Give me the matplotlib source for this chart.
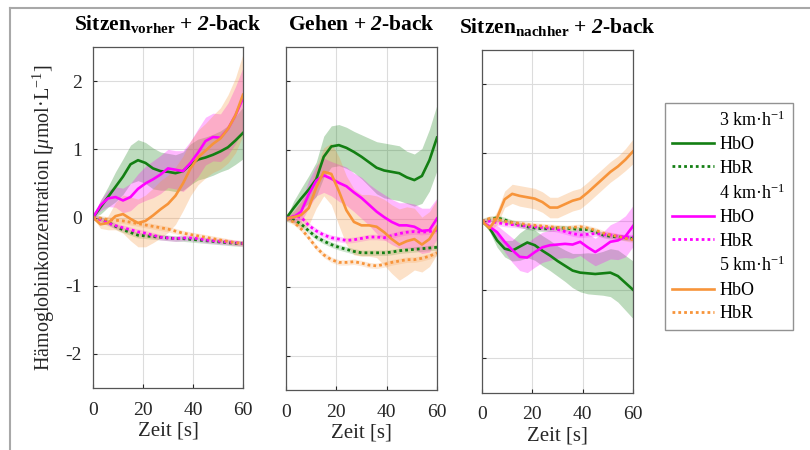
import numpy as np
import matplotlib
matplotlib.use("Agg")
import matplotlib.pyplot as plt
from matplotlib.lines import Line2D

plt.rcParams['font.family'] = ['Liberation Serif', 'DejaVu Serif']
plt.rcParams['mathtext.fontset'] = 'custom'
plt.rcParams['mathtext.rm'] = 'Liberation Serif'
plt.rcParams['mathtext.it'] = 'Liberation Serif:italic'
plt.rcParams['mathtext.bf'] = 'Liberation Serif:bold'
plt.rcParams['mathtext.bfit'] = 'Liberation Serif:bold:italic'
plt.rcParams['axes.unicode_minus'] = False

# Zeitachse [s]
t = [0, 3, 6, 9, 12, 15, 18, 21, 24, 27, 30, 33, 36, 39, 42, 45, 48, 51, 54, 57, 60]

titles = [r"$\mathbf{Sitzen}_{\mathbf{vorher}}$ + $\mathbfit{2}$-back",
          r"Gehen + $\mathbfit{2}$-back",
          r"$\mathbf{Sitzen}_{\mathbf{nachher}}$ + $\mathbfit{2}$-back"]
speeds = ["3", "4", "5"]

# Sitzen vorher
v_hbo_3 = [0, 0.15, 0.3, 0.45, 0.6, 0.78, 0.84, 0.8, 0.72, 0.68, 0.67, 0.65, 0.68, 0.78, 0.85, 0.88, 0.92, 0.97, 1.03, 1.13, 1.24]
v_hbo_3_sd = [0, 0.1, 0.15, 0.22, 0.26, 0.28, 0.3, 0.3, 0.3, 0.28, 0.27, 0.27, 0.28, 0.3, 0.3, 0.3, 0.3, 0.3, 0.32, 0.35, 0.38]
v_hbo_4 = [0, 0.18, 0.28, 0.3, 0.25, 0.3, 0.42, 0.5, 0.56, 0.63, 0.72, 0.7, 0.68, 0.8, 0.95, 1.12, 1.18, 1.17, 1.3, 1.5, 1.75]
v_hbo_4_sd = [0, 0.08, 0.12, 0.15, 0.18, 0.2, 0.22, 0.25, 0.27, 0.28, 0.28, 0.28, 0.3, 0.32, 0.35, 0.35, 0.35, 0.35, 0.38, 0.42, 0.45]
v_hbo_5 = [0, -0.1, -0.08, 0.02, 0.05, -0.02, -0.08, -0.05, 0.03, 0.12, 0.2, 0.32, 0.5, 0.72, 0.88, 0.98, 1.08, 1.16, 1.3, 1.5, 1.8]
v_hbo_5_sd = [0, 0.06, 0.1, 0.2, 0.28, 0.32, 0.35, 0.38, 0.4, 0.42, 0.42, 0.42, 0.4, 0.4, 0.4, 0.4, 0.42, 0.45, 0.5, 0.55, 0.6]
v_hbr_3 = [0, -0.02, -0.07, -0.13, -0.18, -0.22, -0.26, -0.27, -0.28, -0.29, -0.3, -0.31, -0.31, -0.32, -0.33, -0.34, -0.35, -0.36, -0.37, -0.38, -0.38]
v_hbr_4 = [0, -0.03, -0.08, -0.12, -0.15, -0.18, -0.21, -0.23, -0.26, -0.29, -0.3, -0.31, -0.3, -0.3, -0.31, -0.33, -0.34, -0.35, -0.36, -0.37, -0.38]
v_hbr_5 = [0, -0.01, -0.03, -0.04, -0.05, -0.07, -0.09, -0.11, -0.13, -0.15, -0.17, -0.2, -0.23, -0.25, -0.27, -0.29, -0.31, -0.33, -0.35, -0.37, -0.38]

# Gehen
g_hbo_3 = [0, 0.15, 0.29, 0.42, 0.57, 0.9, 1.05, 1.07, 1.03, 0.97, 0.9, 0.82, 0.74, 0.7, 0.68, 0.66, 0.6, 0.56, 0.62, 0.85, 1.18]
g_hbo_3_sd = [0, 0.1, 0.15, 0.2, 0.25, 0.3, 0.3, 0.3, 0.3, 0.3, 0.32, 0.35, 0.38, 0.4, 0.4, 0.4, 0.38, 0.38, 0.4, 0.45, 0.48]
g_hbo_4 = [0, 0.02, 0.1, 0.35, 0.55, 0.63, 0.58, 0.52, 0.47, 0.38, 0.3, 0.2, 0.1, 0.02, -0.05, -0.1, -0.1, -0.12, -0.18, -0.17, 0.0]
g_hbo_4_sd = [0, 0.08, 0.15, 0.2, 0.22, 0.25, 0.25, 0.27, 0.28, 0.28, 0.3, 0.3, 0.32, 0.33, 0.33, 0.33, 0.33, 0.33, 0.33, 0.32, 0.3]
g_hbo_5 = [0, 0.02, 0.05, 0.15, 0.45, 0.68, 0.65, 0.4, 0.12, -0.05, -0.1, -0.1, -0.12, -0.2, -0.3, -0.38, -0.33, -0.3, -0.38, -0.3, -0.12]
g_hbo_5_sd = [0, 0.1, 0.2, 0.25, 0.3, 0.35, 0.45, 0.5, 0.5, 0.48, 0.45, 0.45, 0.45, 0.48, 0.5, 0.52, 0.5, 0.45, 0.4, 0.4, 0.4]
g_hbr_3 = [0, -0.02, -0.08, -0.18, -0.27, -0.33, -0.38, -0.42, -0.45, -0.48, -0.5, -0.5, -0.5, -0.5, -0.49, -0.47, -0.46, -0.45, -0.44, -0.43, -0.42]
g_hbr_4 = [0, 0.03, 0.02, -0.1, -0.18, -0.24, -0.28, -0.3, -0.32, -0.31, -0.29, -0.27, -0.27, -0.28, -0.25, -0.22, -0.2, -0.19, -0.2, -0.19, -0.17]
g_hbr_5 = [0, -0.05, -0.15, -0.28, -0.42, -0.53, -0.6, -0.64, -0.64, -0.63, -0.65, -0.68, -0.69, -0.67, -0.64, -0.62, -0.6, -0.6, -0.58, -0.55, -0.5]

# Sitzen nachher
n_hbo_3 = [0, -0.1, -0.28, -0.4, -0.43, -0.37, -0.31, -0.35, -0.43, -0.5, -0.58, -0.65, -0.72, -0.75, -0.76, -0.77, -0.76, -0.75, -0.8, -0.9, -1.0]
n_hbo_3_sd = [0, 0.05, 0.1, 0.12, 0.15, 0.2, 0.22, 0.22, 0.22, 0.22, 0.22, 0.23, 0.25, 0.28, 0.3, 0.3, 0.32, 0.35, 0.38, 0.4, 0.42]
n_hbo_4 = [0, -0.08, -0.16, -0.3, -0.42, -0.52, -0.53, -0.45, -0.38, -0.35, -0.34, -0.33, -0.34, -0.3, -0.38, -0.45, -0.38, -0.3, -0.28, -0.22, -0.07]
n_hbo_4_sd = [0, 0.05, 0.1, 0.15, 0.18, 0.2, 0.22, 0.22, 0.22, 0.22, 0.2, 0.2, 0.2, 0.2, 0.2, 0.2, 0.22, 0.25, 0.28, 0.3, 0.3]
n_hbo_5 = [0, -0.1, 0.05, 0.32, 0.4, 0.37, 0.35, 0.33, 0.28, 0.2, 0.2, 0.25, 0.3, 0.33, 0.42, 0.52, 0.62, 0.72, 0.8, 0.9, 1.02]
n_hbo_5_sd = [0, 0.05, 0.1, 0.12, 0.14, 0.15, 0.15, 0.15, 0.15, 0.15, 0.15, 0.15, 0.15, 0.15, 0.15, 0.15, 0.15, 0.15, 0.15, 0.16, 0.18]
n_hbr_3 = [0, 0.03, 0.05, 0.02, -0.02, -0.05, -0.08, -0.1, -0.11, -0.11, -0.1, -0.1, -0.11, -0.12, -0.12, -0.15, -0.2, -0.22, -0.23, -0.24, -0.25]
n_hbr_4 = [0, 0.0, -0.02, -0.04, -0.05, -0.06, -0.07, -0.08, -0.09, -0.1, -0.12, -0.15, -0.18, -0.2, -0.19, -0.18, -0.19, -0.2, -0.22, -0.23, -0.23]
n_hbr_5 = [0, 0.04, 0.03, 0.0, -0.02, -0.03, -0.05, -0.06, -0.07, -0.08, -0.09, -0.1, -0.09, -0.08, -0.1, -0.13, -0.17, -0.2, -0.22, -0.25, -0.27]

hbr_sd = 0.04  # HbR Streuung kaum sichtbar

hbo = [[v_hbo_3, v_hbo_4, v_hbo_5], [g_hbo_3, g_hbo_4, g_hbo_5], [n_hbo_3, n_hbo_4, n_hbo_5]]
hbo_sd = [[v_hbo_3_sd, v_hbo_4_sd, v_hbo_5_sd], [g_hbo_3_sd, g_hbo_4_sd, g_hbo_5_sd], [n_hbo_3_sd, n_hbo_4_sd, n_hbo_5_sd]]
hbr = [[v_hbr_3, v_hbr_4, v_hbr_5], [g_hbr_3, g_hbr_4, g_hbr_5], [n_hbr_3, n_hbr_4, n_hbr_5]]

colors = ['#137f13', '#ff00ff', '#f7943a']

fig = plt.figure(figsize=(8.1, 4.5), dpi=100)
positions = [[93/810, 62/450, 150/810, 341/450],
             [286/810, 60/450, 151/810, 343/450],
             [482/810, 57.5/450, 151/810, 342.5/450]]

t = np.array(t)
for p in range(3):
    ax = fig.add_axes(positions[p])
    for k in range(3):
        m = np.array(hbo[p][k])
        s = np.array(hbo_sd[p][k])
        ax.fill_between(t, m - s, m + s, color=colors[k], alpha=0.28, lw=0)
        r = np.array(hbr[p][k])
        ax.fill_between(t, r - hbr_sd, r + hbr_sd, color=colors[k], alpha=0.2, lw=0)
    for k in range(3):
        ax.plot(t, hbo[p][k], color=colors[k], lw=1.9, solid_joinstyle='round')
        ax.plot(t, hbr[p][k], color=colors[k], lw=2.0, linestyle=(0, (1, 1.1)))
    ax.set_xlim(0, 60)
    ax.set_ylim(-2.5, 2.5)
    ax.set_xticks([0, 20, 40, 60])
    ax.set_yticks([-2, -1, 0, 1, 2])
    ax.grid(True, color='#dcdcdc', lw=0.8)
    ax.set_axisbelow(True)
    ax.tick_params(direction='in', length=3, colors='#262626', labelsize=14)
    ax.tick_params(axis='x', pad=10)
    ax.tick_params(axis='y', pad=8)
    for sp in ax.spines.values():
        sp.set_color('#555555')
        sp.set_linewidth(0.9)
    ax.set_xlabel('Zeit [s]', fontsize=15, color='#262626', labelpad=2)
    ax.set_title(titles[p], fontsize=15.5, fontweight='bold', pad=12)
    if p == 0:
        ax.set_ylabel(r'Hämoglobinkonzentration [$\mu$mol·L$^{-1}$]', fontsize=14.5, color='#262626', labelpad=6)
    else:
        ax.set_yticklabels([])

# Legende
handles = []
labels = []
for k in range(3):
    handles.append(Line2D([], [], color='none'))
    labels.append(speeds[k] + r' km·h$^{-1}$')
    handles.append(Line2D([], [], color=colors[k], lw=1.9))
    labels.append('HbO')
    handles.append(Line2D([], [], color=colors[k], lw=2.0, linestyle=(0, (1, 1.1))))
    labels.append('HbR')
fig.legend(handles, labels, loc='upper left', bbox_to_anchor=(665/810, 1 - 103/450),
           fontsize=13, frameon=True, fancybox=False, edgecolor='#777777',
           handlelength=2.3, handletextpad=0.3, labelspacing=0.36, borderpad=0.4,
           borderaxespad=0)

# Rahmen
fig.add_artist(Line2D([10/810, 1], [1 - 8/450, 1 - 8/450], transform=fig.transFigure, color='#a8a8a8', lw=1.5))
fig.add_artist(Line2D([10/810, 10/810], [0, 1 - 8/450], transform=fig.transFigure, color='#a8a8a8', lw=1.5))

fig.savefig('out.png', dpi=100)
